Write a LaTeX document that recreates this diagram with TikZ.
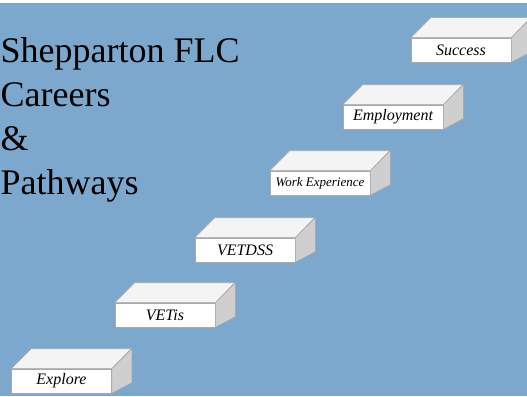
\documentclass[tikz,border=0pt]{standalone}
\usepackage{fontspec}
\setmainfont{Liberation Serif}
\definecolor{sky}{HTML}{7DA8CD}
\definecolor{rim}{HTML}{A8A8A8}
\definecolor{flank}{HTML}{CFCFCF}
\definecolor{lid}{HTML}{F4F4F4}
\begin{document}
\begin{tikzpicture}
[x=1pt, y=-1pt,
 stair/.style={draw=rim,fill=white,line width=.6pt,minimum width=100pt,minimum height=24pt,inner sep=0pt,
   font=\fontsize{16}{18}\selectfont\itshape},
 topf/.style={draw=rim,fill=lid,line width=.6pt,line join=round},
 sidef/.style={draw=rim,fill=flank,line width=.6pt,line join=round}]
\useasboundingbox (0,0) rectangle (527,396);
\fill[white] (0,0) rectangle (527,396);\fill[sky] (0,3) rectangle (527,396);
\begin{scope}
\clip (0,3) rectangle (527,396);
% steps, front faces
\node(explore) at (61.5,381)[stair]{Explore};\node(vetis) at (165,315)[stair]{VETis};
\node(vetdss) at (245,250)[stair]{VETDSS};
\node(work) at (320,183)[stair,font=\fontsize{13}{15}\selectfont\itshape]{Work Experience};
\node(employ) at (393,117)[stair]{Employment};\node(success) at (461,50)[stair]{Success};
% top and side faces
\foreach \s in {explore,vetis,vetdss,work,employ,success}{
 \draw[topf](\s.north west)--++(20,-20)--++(100,0)--(\s.north east)--cycle;
 \draw[sidef](\s.north east)--++(20,-20)--++(0,34)--(\s.south east)--cycle;}
\end{scope}
\node(title) at (0.5,194)[anchor=base west,inner sep=0pt,align=left,font=\fontsize{36}{43.7}\selectfont]
 {Shepparton FLC\\Careers\\\&\\Pathways};
\end{tikzpicture}
\end{document}
